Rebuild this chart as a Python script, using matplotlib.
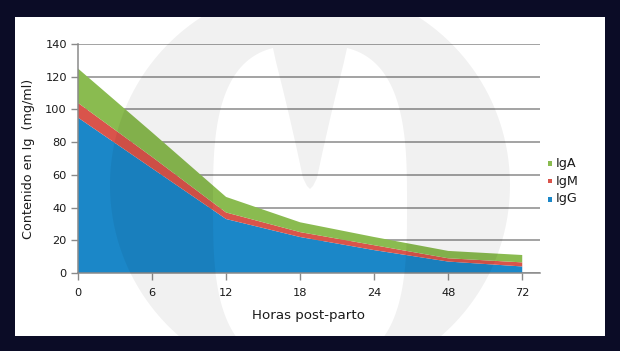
import numpy as np
import matplotlib
matplotlib.use("Agg")
import matplotlib.pyplot as plt
from matplotlib.patches import Rectangle, PathPatch
from matplotlib.path import Path

# --- data (mg/ml, stacked) ---
hours = ["0", "6", "12", "18", "24", "48", "72"]
igg = [95, 64, 33, 22, 14, 7, 4]
igm = [9, 7, 4, 3, 3, 2, 2.5]
iga = [21, 15, 9.5, 6, 5, 4.5, 4.5]

series_names = ["IgG", "IgM", "IgA"]
series_colors = ["#1b87c8", "#d9544b", "#8abb50"]

W, H = 620, 351
BG = "#0b0c26"
GRID = "#8a8a8a"

plt.rcParams["font.family"] = ["DejaVu Sans"]

fig = plt.figure(figsize=(W / 100, H / 100), dpi=100, facecolor=BG)


def px(x, y):
    # pixel (top-left origin) -> figure fraction
    return x / W, 1 - y / H


# white panel
x0, y0 = px(15, 336)
panel = Rectangle((x0, y0), 590 / W, 319 / H, transform=fig.transFigure,
                  facecolor="white", edgecolor="none", zorder=-1)
fig.add_artist(panel)

# axes: 0 -> x=78px, 140 -> y=44px, zero at y=273px
ax = fig.add_axes([78 / W, (H - 273) / H, 462 / W, 229 / H])
ax.set_facecolor("none")
xs = np.arange(len(hours))
ax.stackplot(xs, igg, igm, iga, colors=series_colors, linewidth=0, zorder=2)

ax.set_xlim(0, 6.24)
ax.set_ylim(0, 140)
ax.set_yticks(range(0, 141, 20))
ax.set_xticks(xs)
ax.set_xticklabels(hours)
ax.yaxis.grid(True, color=GRID, lw=1.1, zorder=1)
ax.set_axisbelow(True)
for s in ["top", "right"]:
    ax.spines[s].set_visible(False)
for s in ["left", "bottom"]:
    ax.spines[s].set_color(GRID)
    ax.spines[s].set_linewidth(1.1)
ax.tick_params(axis="both", colors=GRID, length=5, width=1, labelsize=8.2,
               labelcolor="#1a1a1a")
ax.tick_params(axis="y", pad=3)
ax.tick_params(axis="x", pad=6)
ax.set_xlabel("Horas post-parto", fontsize=9.6, color="#1a1a1a", labelpad=8)
ax.set_ylabel("Contenido en Ig  (mg/ml)", fontsize=9.2, color="#1a1a1a", labelpad=7)

# legend, top entry = last stacked series
for i, (name, col) in enumerate(zip(series_names[::-1], series_colors[::-1])):
    yy = 163 + 18 * i
    mx, my = px(547.5, yy + 2.5)
    fig.add_artist(Rectangle((mx, my), 4.5 / W, 4.5 / H, transform=fig.transFigure,
                             facecolor=col, edgecolor="none", zorder=3))
    tx, ty = px(556, yy)
    fig.text(tx, ty, name, fontsize=9.2, color="#1a1a1a", va="center", ha="left")

# faint watermark: ring with a rounded hole and a drop hanging from the top
cx, cy, R = 310, 185, 200
ex, ey, rx, ry, n = 310, 205, 97, 160, 3.0


def superellipse(t):
    c, s = np.cos(t), np.sin(t)
    return (ex + rx * np.sign(c) * np.abs(c) ** (2 / n),
            ey - ry * np.sign(s) * np.abs(s) ** (2 / n))


# angle where the hole boundary reaches x = 310 +/- 37
t_r = np.arccos((37 / rx) ** (n / 2))
t_l = np.pi - t_r
th = np.linspace(t_r, t_l - 2 * np.pi, 160)
hole = [superellipse(t) for t in th]
drop = [(276, 62), (283, 90), (289, 115), (297, 150), (303, 178), (307, 186),
        (310, 189), (313, 186), (317, 178), (323, 150), (331, 115), (337, 90),
        (344, 62)]
hole = hole + drop
ang = np.linspace(0, 2 * np.pi, 200)
outer = [(cx + R * np.cos(a), cy - R * np.sin(a)) for a in ang]
verts, codes = [], []
for ring in (outer, hole):
    pts = [px(x, y) for x, y in ring]
    verts += pts + [pts[0]]
    codes += [Path.MOVETO] + [Path.LINETO] * (len(pts) - 1) + [Path.CLOSEPOLY]
wm = PathPatch(Path(verts, codes), transform=fig.transFigure, facecolor="black",
               edgecolor="none", alpha=0.055, zorder=5)
fig.add_artist(wm)
wm.set_clip_path(panel)

fig.savefig("out.png", dpi=100, facecolor=BG)
